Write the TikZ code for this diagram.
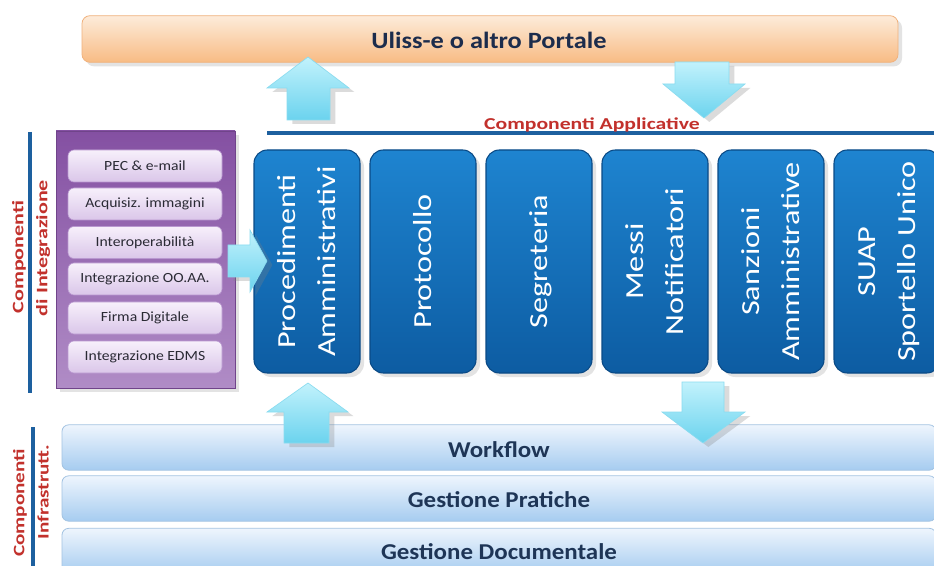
\documentclass[tikz,border=0pt]{standalone}
\usepackage{fontspec}
\setmainfont{Carlito}
\usepackage{graphicx}
\usetikzlibrary{shadows}

\definecolor{portTop}{HTML}{FDEBDA}
\definecolor{portBot}{HTML}{F8BC84}
\definecolor{portEdge}{HTML}{F0B27E}
\definecolor{navy}{HTML}{1C2C4C}
\definecolor{arrTop}{HTML}{C2F2FC}
\definecolor{arrBot}{HTML}{6BD3EE}
\definecolor{arrEdge}{HTML}{8ADCF0}
\definecolor{appTop}{HTML}{1E84D0}
\definecolor{appBot}{HTML}{0D5CA2}
\definecolor{appEdge}{HTML}{0A4A86}
\definecolor{rule}{HTML}{1D609F}
\definecolor{labelred}{HTML}{C2312C}
\definecolor{purTop}{HTML}{8450A2}
\definecolor{purBot}{HTML}{B08CC6}
\definecolor{itemTop}{HTML}{F7F0FB}
\definecolor{itemBot}{HTML}{DAC6E9}
\definecolor{itemEdge}{HTML}{B998D0}
\definecolor{itemText}{HTML}{2A2A34}
\definecolor{barTop}{HTML}{EEF5FD}
\definecolor{barBot}{HTML}{A6CCF0}
\definecolor{barEdge}{HTML}{A3C3E2}
\definecolor{barText}{HTML}{1E3556}

% horizontal stretch of a text along its reading direction
\newcommand\sx[2]{\scalebox{#1}[1]{#2}}
% vertical white label of an application block
\newcommand\apptext[1]{\rotatebox{90}{\sx{1.24}{\begin{tabular}{@{}c@{}}#1\end{tabular}}}}

\begin{document}
\begin{tikzpicture}[x=0.75pt,y=-0.75pt,
  softshadow/.style={drop shadow={opacity=0.22,shadow xshift=3pt,shadow yshift=-3pt}},
  portal/.style={rounded corners=6pt, draw=portEdge, line width=0.6pt,
    top color=portTop, bottom color=portBot, inner sep=0pt,
    minimum width=612pt, minimum height=35pt, softshadow},
  appbox/.style={rounded corners=10pt, draw=appEdge, line width=0.8pt,
    top color=appTop, bottom color=appBot, inner sep=0pt,
    minimum width=79.5pt, minimum height=167.25pt, text=white,
    font=\fontsize{19.5pt}{30pt}\selectfont, softshadow},
  panel/.style={draw=purTop!85!black, line width=0.4pt, top color=purTop,
    bottom color=purBot, inner sep=0pt, minimum width=134.25pt,
    minimum height=192.75pt, softshadow},
  item/.style={rounded corners=4.5pt, draw=itemEdge, line width=0.5pt,
    top color=itemTop, bottom color=itemBot, inner sep=0pt,
    minimum width=115.5pt, minimum height=24pt, text=itemText,
    font=\fontsize{10.5pt}{12pt}\selectfont},
  infra/.style={rounded corners=5pt, draw=barEdge, line width=0.6pt,
    top color=barTop, bottom color=barBot, inner sep=0pt,
    minimum width=655.5pt, minimum height=34pt},
  infratext/.style={text=barText, font=\fontsize{17pt}{19pt}\selectfont\bfseries},
  sidelabel/.style={text=labelred, font=\fontsize{12pt}{14pt}\selectfont\bfseries},
  blockarrow/.style={top color=arrTop, bottom color=arrBot, draw=arrEdge,
    line width=0.5pt, line join=miter, drop shadow={opacity=0.28,shadow xshift=4pt,shadow yshift=-3pt}}
]
\useasboundingbox (0,0) rectangle (934,566);
\clip (0,0) rectangle (934,566);
\fill[white] (0,0) rectangle (934,566);

% ---------- infrastructure layers ----------
\node[infra] (wf)  at (499,447.5) {};
\node[infra] (gp)  at (499,498.5) {};
\node[infra] (gd)  at (499,551)   {};
\node[infratext] at (499,450) {\sx{1.1}{Workflow}};
\node[infratext] at (499,500) {\sx{1.1}{Gestione Pratiche}};
\node[infratext] at (499,552) {\sx{1.1}{Gestione Documentale}};

% ---------- portal ----------
\node[portal] (portal) at (490,39) {};
\node[text=navy, font=\fontsize{17.5pt}{20pt}\selectfont\bfseries]
  at (489,40) {\sx{1.13}{Uliss-e o altro Portale}};

% ---------- application components ----------
\draw[rule, line width=3.5pt] (267,133) -- (934,133);
\node[sidelabel, anchor=base, font=\fontsize{12.5pt}{14pt}\selectfont\bfseries]
  (applabel) at (592,130) {\sx{1.3}{Componenti Applicative}};

\node[appbox] (app1) at (307,261.5) {\apptext{Procedimenti\\Amministrativi}};
\node[appbox] (app2) at (423,261.5) {\apptext{Protocollo}};
\node[appbox] (app3) at (539,261.5) {\apptext{Segreteria}};
\node[appbox] (app4) at (655,261.5) {\apptext{Messi\\Notificatori}};
\node[appbox] (app5) at (771,261.5) {\apptext{Sanzioni\\Amministrative}};
\node[appbox] (app6) at (887,261.5) {\apptext{SUAP\\Sportello Unico}};

% ---------- integration components ----------
\draw[rule, line width=3pt] (30,132) -- (30,393);
\node[sidelabel, rotate=90] at (19,257) {\sx{1.38}{Componenti}};
\node[sidelabel, rotate=90] at (43,248) {\sx{1.38}{di Integrazione}};

\node[panel] (panel) at (145.5,259.5) {};
\node[item] (i1) at (145,166)   {\sx{1.12}{PEC \& e-mail}};
\node[item] (i2) at (145,204)   {\sx{1.12}{Acquisiz. immagini}};
\node[item] (i3) at (145,242.5) {\sx{1.12}{Interoperabilità}};
\node[item] (i4) at (145,279)   {\sx{1.12}{Integrazione OO.AA.}};
\node[item] (i5) at (145,318)   {\sx{1.12}{Firma Digitale}};
\node[item] (i6) at (145,357)   {\sx{1.12}{Integrazione EDMS}};

% ---------- infrastructure label ----------
\draw[rule, line width=3pt] (33,427) -- (33,566);
\node[sidelabel, rotate=90] at (20,503) {\sx{1.32}{Componenti}};
\node[sidelabel, rotate=90] at (43,492) {\sx{1.32}{Infrastrutt.}};

% ---------- block arrows ----------
% applications -> portal
\path[blockarrow] (287,120) -- (287,88) -- (267,88) -- (308,57) -- (349,88)
  -- (330,88) -- (330,120) -- cycle;
% portal -> applications
\path[blockarrow] (675,62) -- (675,84) -- (663,84) -- (704,118) -- (745,84)
  -- (729,84) -- (729,62) -- cycle;
% integration -> procedures
\path[blockarrow] (228,245) -- (250,245) -- (250,230) -- (267,261) -- (250,292)
  -- (250,277) -- (228,277) -- cycle;
% workflow -> procedures
\path[blockarrow] (284,443) -- (284,412) -- (267,412) -- (308,383) -- (348,412)
  -- (329,412) -- (329,443) -- cycle;
% applications -> workflow
\path[blockarrow] (682,382) -- (682,412) -- (662,412) -- (703,443) -- (745,412)
  -- (724,412) -- (724,382) -- cycle;
\end{tikzpicture}
\end{document}
